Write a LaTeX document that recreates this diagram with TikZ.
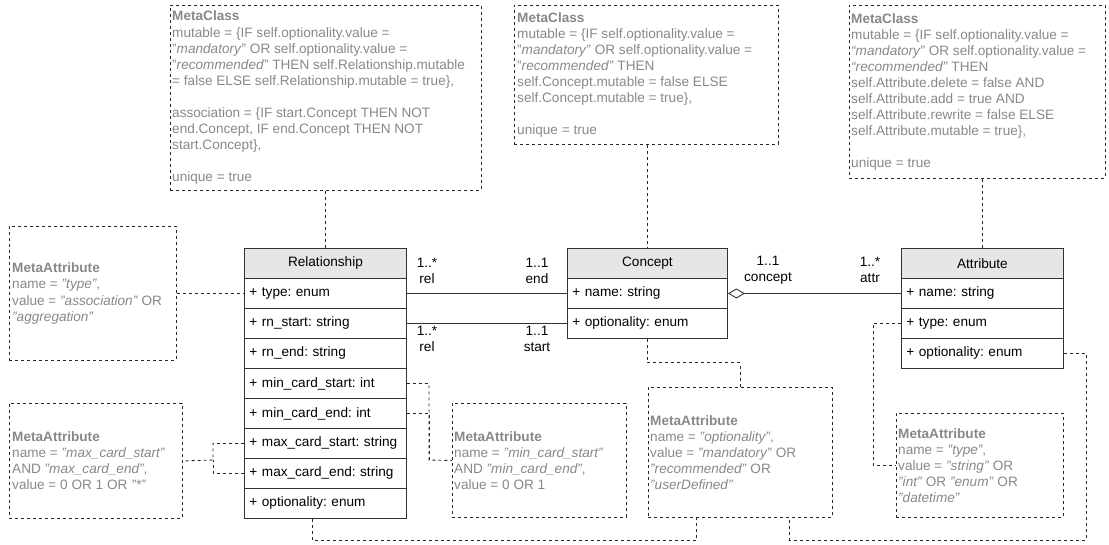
\documentclass[tikz,border=0pt]{standalone}
\usepackage{fontspec}
\setmainfont{Liberation Sans}
\usetikzlibrary{arrows.meta}
\definecolor{metagray}{HTML}{888888}
\definecolor{headfill}{HTML}{E6E6E6}
\begin{document}
\frenchspacing
\begin{tikzpicture}[x=1pt,y=-1pt,
  txt/.style={font=\fontsize{13.6}{16.1}\selectfont},
  classhead/.style={txt, draw=black!80, fill=headfill, line width=0.9pt,
    minimum width=#1, minimum height=30pt, inner sep=0pt, anchor=north west},
  classrow/.style={txt, draw=black!80, fill=white, line width=0.9pt, text width=#1,
    inner xsep=5pt, inner ysep=0pt, minimum height=30pt, align=left, anchor=north west},
  metabox/.style={draw=black!85, dash pattern=on 3pt off 3pt, line width=0.9pt,
    inner sep=0pt, anchor=north west},
  metatext/.style={txt, text=metagray, align=left, inner sep=0pt, anchor=west},
  note/.style={draw=black!85, dash pattern=on 3pt off 3pt, line width=0.9pt},
  assoc/.style={draw=black!80, line width=0.9pt},
  mult/.style={txt, align=center, inner sep=0pt},
]
\useasboundingbox (0,0) rectangle (1109,544);

% ---------- MetaClass notes ----------
\node[metabox, minimum width=311pt, minimum height=185pt] (mcRel) at (170,5) {};
\node[metatext] (mcRelT) at ([xshift=2pt]mcRel.west) {\textbf{MetaClass}\\
mutable = \{IF self.optionality.value =\\
"\textit{mandatory}" OR self.optionality.value =\\
"\textit{recommended}" THEN self.Relationship.mutable\\
= false ELSE self.Relationship.mutable = true\},\\[16.1pt]
association = \{IF start.Concept THEN NOT\\
end.Concept, IF end.Concept THEN NOT\\
start.Concept\},\\[16.1pt]
unique = true};

\node[metabox, minimum width=264pt, minimum height=139pt] (mcCon) at (514,5) {};
\node[metatext] (mcConT) at ([xshift=3pt]mcCon.west) {\textbf{MetaClass}\\
mutable = \{IF self.optionality.value =\\
"\textit{mandatory"} OR self.optionality.value =\\
"\textit{recommended"} THEN\\
self.Concept.mutable = false ELSE\\
self.Concept.mutable = true\},\\[16.1pt]
unique = true};

\node[metabox, minimum width=256pt, minimum height=173pt] (mcAtt) at (849,5) {};
\node[metatext] (mcAttT) at ([xshift=2pt]mcAtt.west) {\textbf{MetaClass}\\
mutable = \{IF self.optionality.value =\\
\textit{“mandatory”} OR self.optionality.value =\\
\textit{“recommended”} THEN\\
self.Attribute.delete = false AND\\
self.Attribute.add = true AND\\
self.Attribute.rewrite = false ELSE\\
self.Attribute.mutable = true\},\\[16.1pt]
unique = true};

% ---------- Relationship class ----------
\node[classhead=162pt] (relH) at (244,248) {Relationship};
\node[classrow=152pt] (rel1) at (244,278) {+ type: enum};
\node[classrow=152pt] (rel2) at (244,308) {+ rn\_start: string};
\node[classrow=152pt] (rel3) at (244,338) {+ rn\_end: string};
\node[classrow=152pt] (rel4) at (244,368) {+ min\_card\_start: int};
\node[classrow=152pt] (rel5) at (244,398) {+ min\_card\_end: int};
\node[classrow=152pt] (rel6) at (244,428) {+ max\_card\_start: string};
\node[classrow=152pt] (rel7) at (244,458) {+ max\_card\_end: string};
\node[classrow=152pt] (rel8) at (244,488) {+ optionality: enum};

% ---------- Concept class ----------
\node[classhead=160pt] (conH) at (567,248) {Concept};
\node[classrow=150pt] (con1) at (567,278) {+ name: string};
\node[classrow=150pt] (con2) at (567,308) {+ optionality: enum};

% ---------- Attribute class ----------
\node[classhead=162pt] (attH) at (901,248) {Attribute};
\node[classrow=152pt] (att1) at (901,278) {+ name: string};
\node[classrow=152pt] (att2) at (901,308) {+ type: enum};
\node[classrow=152pt] (att3) at (901,338) {+ optionality: enum};

% ---------- MetaAttribute notes ----------
\node[metabox, minimum width=167pt, minimum height=134pt] (maType) at (9,226) {};
\node[metatext] (maTypeT) at ([xshift=3pt]maType.west) {\textbf{MetaAttribute}\\
name = \textit{"type"},\\
value = \textit{"association"} OR\\
\textit{"aggregation"}};

\node[metabox, minimum width=173pt, minimum height=115pt] (maMax) at (9,403) {};
\node[metatext] (maMaxT) at ([xshift=3pt]maMax.west) {\textbf{MetaAttribute}\\
name = \textit{"max\_card\_start"}\\
AND \textit{"max\_card\_end"},\\
value = 0 OR 1 OR \textit{"*"}};

\node[metabox, minimum width=174pt, minimum height=114pt] (maMin) at (452,403) {};
\node[metatext] (maMinT) at ([xshift=2pt]maMin.west) {\textbf{MetaAttribute}\\
name = \textit{"min\_card\_start"}\\
AND \textit{"min\_card\_end"},\\
value = 0 OR 1};

\node[metabox, minimum width=184pt, minimum height=130pt] (maOpt) at (648,387) {};
\node[metatext] (maOptT) at ([xshift=2pt]maOpt.west) {\textbf{MetaAttribute}\\
name = \textit{"optionality"},\\
value = \textit{"mandatory"} OR\\
\textit{"recommended"} OR\\
\textit{"userDefined"}};

\node[metabox, minimum width=167pt, minimum height=104pt] (maAttT) at (896,413) {};
\node[metatext] (maAttTT) at ([xshift=2pt]maAttT.west) {\textbf{MetaAttribute}\\
name = \textit{"type"},\\
value = \textit{"string"} OR\\
\textit{"int"} OR \textit{"enum"} OR\\
\textit{"datetime"}};

% ---------- associations ----------
\draw[assoc] (rel1.east) -- (con1.west);
\draw[assoc] (rel2.east) -- (con2.west);
\draw[assoc, {Diamond[open, length=17pt, width=10pt]}-] (con1.east) -- (att1.west);

\node[mult] (mRelEnd) at (427,271) {1..*\\rel};
\node[mult] (mConEnd) at (537,271) {1..1\\end};
\node[mult] (mRelStart) at (427,339) {1..*\\rel};
\node[mult] (mConStart) at (537,339) {1..1\\start};
\node[mult] (mConAgg) at (768,270) {1..1\\concept};
\node[mult] (mAttAgg) at (870,270) {1..*\\attr};

% ---------- note links ----------
\draw[note] (relH.north |- mcRel.south) -- (relH.north);
\draw[note] (conH.north |- mcCon.south) -- (conH.north);
\draw[note] (attH.north |- mcAtt.south) -- (attH.north);
\draw[note] (maType.east) -- (rel1.west);

\coordinate (jMax) at (213,460);
\draw[note] (rel6.west) -| (jMax) -- (maMax.east);
\draw[note] (rel7.west) -| (jMax);

\coordinate (jMin) at (429,460);
\draw[note] (rel4.east) -| (jMin) -- (maMin.west);
\draw[note] (rel5.east) -| (jMin);

\draw[note] (con2.south) -- ++(0,24) -| (maOpt.north);

\coordinate (bL) at (312,540);
\draw[note] (rel8.south -| bL) -- (bL) -| ([xshift=-44pt]maOpt.south);
\coordinate (bR) at (1086,540);
\draw[note] (att3.east) -| (bR) -| ([xshift=49pt]maOpt.south);

\draw[note] (att2.west) -- ++(-28,0) |- (maAttT.west);
\end{tikzpicture}
\end{document}
